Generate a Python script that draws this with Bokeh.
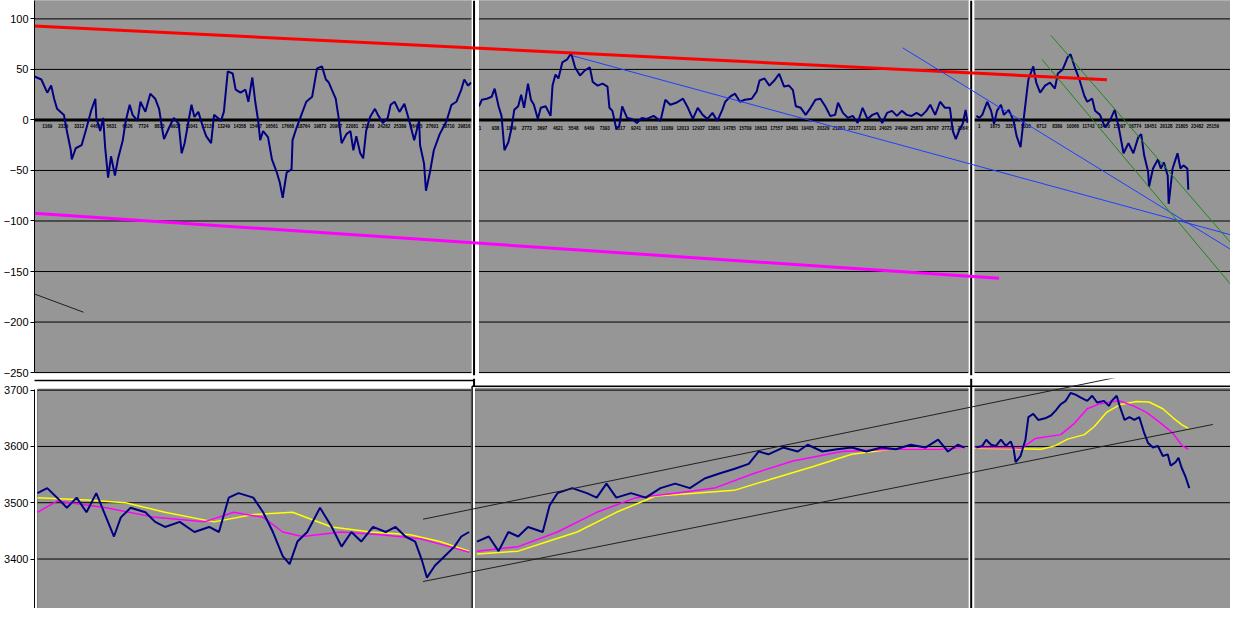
from bokeh.plotting import figure
from bokeh.layouts import column
from bokeh.models import FixedTicker, Range1d
from bokeh.embed import file_html
from bokeh.resources import INLINE
from bokeh.core.properties import value

# ---------------- data: upper row (oscillator) ----------------
top_ticks = [100, 50, 0, -50, -100, -150, -200, -250]

osc1_x = [27, 34, 40, 44, 47, 50, 57, 60, 64, 65,
          69, 75, 80, 85, 89, 90, 94, 97, 99, 102,
          105, 109, 112, 117, 120, 124, 127, 132, 135, 140,
          145, 150, 154, 157, 159, 164, 169, 174, 177, 180,
          184, 187, 190, 194, 199, 202, 207, 210, 214, 217,
          220, 224, 229, 232, 237, 242, 245, 249, 252, 255,
          257, 260, 265, 269, 274, 277, 280, 284, 289, 290,
          294, 299, 304, 310, 315, 320, 324, 327, 330, 334,
          337, 340, 345, 349, 352, 355, 359, 362, 365, 369,
          374, 377, 382, 387, 390, 394, 399, 404, 409, 414,
          419, 420, 424, 426, 430, 434, 440, 447, 452, 457,
          462, 465, 469, 472]
osc1_y = [43, 40, 27, 34, 21, 11, 5, -11, -30, -39,
          -28, -25, -8, 10, 21, 2, -11, 2, -27, -57,
          -36, -55, -39, -20, -1, 15, 5, -1, 18, 8,
          26, 21, 11, -8, -19, -8, 2, -4, -33, -23,
          -1, 15, 3, 8, -8, -16, -23, 5, 2, -1,
          8, 48, 46, 30, 27, 30, 18, 42, 18, -1,
          -20, -11, -17, -39, -52, -62, -77, -52, -49, -20,
          -8, 5, 18, 23, 51, 53, 40, 37, 30, 21,
          2, -23, -14, -11, -30, -16, -33, -38, -11, 3,
          11, 5, -3, 2, 15, 18, 8, 16, -1, -20,
          -1, -25, -43, -70, -52, -30, -14, -1, 15, 18,
          30, 40, 34, 37]

osc2_x = [480, 483, 488, 493, 496, 500, 503, 506, 510, 513,
          516, 520, 523, 526, 530, 533, 536, 540, 543, 548,
          553, 555, 558, 561, 565, 570, 574, 578, 583, 588,
          593, 596, 601, 606, 611, 613, 616, 620, 623, 626,
          631, 636, 641, 646, 651, 658, 665, 670, 675, 681,
          688, 693, 698, 703, 708, 713, 718, 723, 728, 731,
          736, 741, 746, 751, 758, 763, 766, 771, 776, 781,
          786, 791, 796, 800, 803, 808, 813, 818, 823, 828,
          833, 838, 843, 846, 851, 856, 861, 866, 871, 876,
          881, 886, 891, 896, 901, 906, 911, 916, 921, 926,
          931, 936, 940, 945, 950, 955, 960, 963, 966, 970,
          973, 976, 978]
osc2_y = [13.5, 20, 21, 23, 31, 13.5, 4, -30, -22, -9,
          10, 13.5, 25, 12, 36, 20, 15, 1, 12, 13.5,
          4, 34, 45, 41, 57, 60, 66, 52, 44, 49,
          52, 37.5, 34, 36, 33, 12, 9, -9, -6, 13.5,
          2, 1, -3, 2, 1, 4, -1, 20, 15, 17,
          21, 12, 1, 12, 5, 1, 7, -1, 10, 18,
          23, 26, 18, 20, 21, 28, 39, 41, 34, 39,
          45.5, 33, 34, 29.5, 13.5, 12, 5, 12, 20, 21,
          13.5, 4, 5, 17, 7, 2, 4, -3, 12, 1,
          5, 7, -3, 7, 9, 4, 9, 5, 4, 7,
          4, 9, 15, 5, 18, 12, 12, -11, -19, -9,
          -4, 10, -3]

osc3_x = [987, 990, 993, 998, 1002, 1005, 1008, 1012, 1015, 1020,
          1025, 1028, 1032, 1035, 1038, 1040, 1045, 1048, 1052, 1057,
          1062, 1067, 1070, 1075, 1080, 1083, 1087, 1092, 1097, 1100,
          1105, 1108, 1113, 1118, 1123, 1128, 1132, 1137, 1142, 1147,
          1152, 1155, 1158, 1162, 1163, 1167, 1172, 1175, 1178, 1182,
          1183, 1187, 1190, 1192, 1195, 1198, 1202, 1203]
osc3_y = [4, 2, 5, 18, 9, -4, 9, 15, 5, 10,
          -1, -16, -27, -1, 24, 40, 53, 37, 27, 34,
          37, 31, 46, 50, 62, 65, 53, 40, 24, 18,
          21, 9, 5, -7, -1, 10, -7, -33, -23, -33,
          -17, -14, -35, -51, -66, -48, -39, -48, -42, -55,
          -83, -48, -39, -33, -48, -45, -48, -69]

osc1_labels = ["1169", "2339", "3312", "4467", "5631", "6626", "7724", "8833", "9932",
               "11041", "12139", "13249", "14358", "15467", "16561", "17668", "18764",
               "19873", "20967", "22081", "23188", "24282", "25389", "26495", "27601",
               "28710", "29816"]
osc2_labels = ["1", "938", "1849", "2773", "3697", "4621", "5548", "6469", "7393", "8317",
               "9241", "10165", "11089", "12013", "12937", "13861", "14785", "15709",
               "16633", "17557", "18481", "19405", "20329", "21253", "22177", "23101",
               "24025", "24949", "25873", "26797", "27721", "28645"]
osc3_labels = ["1", "1675", "3357", "5035", "6712", "8389", "10066", "11743", "13420",
               "15097", "16774", "18451", "20128", "21805", "23482", "25159"]

# trend lines drawn over the upper row: (x0, x1), (y0, y1)
red_x, red_y = [0, 1120], [94.3, 39.7]
mag_x, mag_y = [0, 1010], [-90.6, -156.7]
blueA_x, blueA_y = [575, 1246], [63.6, -113.6]
blueB_x, blueB_y = [912, 1246], [71.3, -128.0]
greenU_x, greenU_y = [1063, 1246], [83.7, -121.3]
greenL_x, greenL_y = [1054, 1246], [59.8, -162.5]
blk_x, blk_y = [0, 77], [-162.5, -190.3]

# ---------------- data: lower row (price) ----------------
bot_ticks = [3700, 3600, 3500, 3400]

px1_x = [30, 40, 50, 60, 70, 80, 90, 100, 108, 115,
         125, 140, 150, 160, 175, 190, 205, 215, 225, 235,
         250, 260, 270, 280, 287, 295, 305, 318, 330, 340,
         350, 360, 372, 385, 395, 405, 415, 422, 427, 435,
         445, 455, 462, 470]
px1_y = [3517, 3526, 3509, 3491, 3509, 3483, 3517, 3474, 3440, 3474,
         3491, 3483, 3466, 3457, 3466, 3448, 3457, 3448, 3509, 3517,
         3509, 3483, 3448, 3405, 3391, 3431, 3448, 3491, 3457, 3422,
         3448, 3431, 3457, 3448, 3457, 3440, 3431, 3397, 3367, 3388,
         3405, 3422, 3440, 3448]

px2_x = [478, 490, 500, 510, 520, 530, 545, 552, 560, 575,
         590, 600, 610, 620, 635, 650, 665, 680, 695, 710,
         725, 740, 755, 765, 775, 790, 805, 815, 830, 845,
         860, 875, 890, 905, 920, 935, 948, 958, 968, 975]
px2_y = [3431, 3440, 3414, 3448, 3440, 3457, 3448, 3495, 3517, 3526,
         3517, 3509, 3534, 3509, 3517, 3509, 3526, 3534, 3526, 3543,
         3552, 3560, 3569, 3591, 3586, 3598, 3591, 3603, 3591, 3595,
         3598, 3591, 3598, 3595, 3603, 3598, 3612, 3591, 3603, 3598]

px3_x = [987, 993, 997, 1002, 1007, 1012, 1017, 1022, 1025, 1027,
         1032, 1037, 1040, 1045, 1050, 1057, 1063, 1068, 1073, 1078,
         1083, 1088, 1093, 1100, 1105, 1110, 1117, 1122, 1125, 1130,
         1133, 1138, 1143, 1148, 1153, 1158, 1162, 1167, 1172, 1177,
         1182, 1185, 1190, 1193, 1196, 1200, 1204]
px3_y = [3598, 3601, 3612, 3603, 3601, 3612, 3601, 3609, 3595, 3572,
         3583, 3612, 3652, 3658, 3647, 3650, 3655, 3664, 3675, 3681,
         3695, 3692, 3687, 3681, 3690, 3678, 3681, 3672, 3681, 3690,
         3672, 3647, 3652, 3647, 3652, 3624, 3606, 3598, 3601, 3583,
         3586, 3566, 3572, 3580, 3563, 3547, 3526]

ma_fast1_x = [30, 50, 100, 150, 200, 230, 260, 280, 300, 340, 380, 420, 450, 470]
ma_fast1_y = [3483, 3503, 3491, 3474, 3466, 3483, 3474, 3448, 3440, 3448, 3443, 3436, 3422, 3412]
ma_slow1_x = [30, 80, 120, 160, 210, 250, 290, 330, 370, 410, 440, 470]
ma_slow1_y = [3509, 3505, 3500, 3483, 3466, 3479, 3483, 3457, 3448, 3443, 3431, 3414]

ma_fast2_x = [478, 520, 560, 600, 640, 680, 720, 760, 800, 850, 900, 950, 975]
ma_fast2_y = [3414, 3422, 3448, 3483, 3509, 3517, 3526, 3552, 3574, 3591, 3595, 3595, 3598]
ma_slow2_x = [478, 520, 550, 580, 620, 660, 700, 740, 780, 820, 860, 900, 950, 975]
ma_slow2_y = [3409, 3414, 3431, 3448, 3483, 3512, 3517, 3522, 3543, 3564, 3586, 3595, 3595, 3598]

ma_fast3_x = [985, 1033, 1047, 1073, 1087, 1100, 1113, 1127, 1133, 1147, 1160, 1173, 1187, 1197, 1203]
ma_fast3_y = [3598, 3597, 3614, 3621, 3641, 3667, 3676, 3680, 3681, 3672, 3661, 3644, 3624, 3601, 3595]
ma_slow3_x = [985, 1053, 1067, 1080, 1097, 1107, 1120, 1133, 1150, 1163, 1177, 1188, 1197, 1203]
ma_slow3_y = [3597, 3595, 3601, 3613, 3621, 3635, 3661, 3674, 3680, 3679, 3667, 3650, 3638, 3632]

chanU_x, chanU_y = [423, 1158], [3470.7, 3732.8]
chanL_x, chanL_y = [423, 1228], [3360.0, 3639.0]

# ---------------- styling / layout ----------------
GRAY = "#969696"
BORDER = "#7d7d7d"
NAVY = "#000080"
FONT = "Liberation Sans"
X0, X1 = 27, 1246


def style_axis(p, ticks, lo, hi):
    ax = p.yaxis[0]
    ax.ticker = FixedTicker(ticks=ticks)
    ax.bounds = (lo, hi)
    ax.axis_line_color = "black"
    ax.axis_line_width = 1
    ax.major_tick_out = 4
    ax.major_tick_in = 0
    ax.minor_tick_out = 0
    ax.minor_tick_in = 0
    ax.major_tick_line_color = "black"
    ax.major_label_standoff = 2
    ax.major_label_text_font = FONT
    ax.major_label_text_font_size = "11px"
    ax.major_label_text_color = "black"


def grid_segments(p, lefts, rights, ticks, thick=None):
    x0, x1, yy, ww = [], [], [], []
    for l, r in zip(lefts, rights):
        for t in ticks:
            x0.append(l)
            x1.append(r)
            yy.append(t)
            ww.append(3 if t == thick else 1)
    p.segment(x0=x0, x1=x1, y0=yy, y1=yy, line_color="black", line_width=ww)


# ---------- upper figure ----------
T_LO, T_HI = -252.9, 118.2
top = figure(width=1230, height=378, x_range=Range1d(X0, X1), y_range=Range1d(T_LO, T_HI),
             output_backend="svg", toolbar_location=None, x_axis_location=None,
             min_border_left=30, min_border_right=0, min_border_top=0, min_border_bottom=3,
             background_fill_color="white", border_fill_color="white", outline_line_color=None)
top.grid.visible = False
style_axis(top, top_ticks, -250, T_HI)

t_left = [27, 480, 985]
t_right = [472.5, 979, 1246]
top.quad(left=t_left, right=t_right, bottom=[-250] * 3, top=[T_HI] * 3,
         fill_color=GRAY, line_color=BORDER, line_width=1)
grid_segments(top, t_left, t_right, top_ticks, thick=0)

# tiny category labels along the zero line
for labels, l, r, yv in [(osc1_labels, 40, 465, -6), (osc2_labels, 481, 974, -8),
                          (osc3_labels, 990, 1228, -6)]:
    n = len(labels)
    xs = [l + (r - l) * i / (n - 1) for i in range(n)]
    top.text(x=xs, y=[yv] * n, text=labels, text_font=value(FONT), text_font_size="4.5px",
             text_font_style="bold", text_color="black", text_align="center",
             text_baseline="middle")

for xs, ys in [(osc1_x, osc1_y), (osc2_x, osc2_y), (osc3_x, osc3_y)]:
    top.line(xs, ys, line_color=NAVY, line_width=2)

# separators between the pasted panels
top.quad(left=[472.5, 979], right=[480, 985], bottom=[T_LO] * 2, top=[T_HI] * 2,
         fill_color="white", line_color=None)
top.segment(x0=[475, 981.7], x1=[475, 981.7], y0=[T_LO] * 2, y1=[T_HI] * 2,
            line_color="black", line_width=2)

# hand-drawn trend lines
top.line(red_x, red_y, line_color="#ff0000", line_width=3)
top.line(mag_x, mag_y, line_color="#ff00ff", line_width=3)
top.line(blueA_x, blueA_y, line_color="#1f3fff", line_width=1)
top.line(blueB_x, blueB_y, line_color="#1f3fff", line_width=1)
top.line(greenU_x, greenU_y, line_color="#1a8a1a", line_width=1)
top.line(greenL_x, greenL_y, line_color="#1a8a1a", line_width=1)
top.line(blk_x, blk_y, line_color="#202020", line_width=1)

# ---------- lower figure ----------
B_LO, B_HI = 3312.1, 3720.7
bot = figure(width=1230, height=230, x_range=top.x_range, y_range=Range1d(B_LO, B_HI),
             output_backend="svg", toolbar_location=None, x_axis_location=None,
             min_border_left=30, min_border_right=0, min_border_top=0, min_border_bottom=0,
             background_fill_color="white", border_fill_color="white", outline_line_color=None)
bot.grid.visible = False
style_axis(bot, bot_ticks, B_LO, 3701.7)

b_left = [30, 476, 985]
b_right = [472, 979, 1246]
b_top = [3701.7, 3703.4, 3703.4]
bot.quad(left=b_left, right=b_right, bottom=[B_LO] * 3, top=b_top,
         fill_color=GRAY, line_color=BORDER, line_width=1)
grid_segments(bot, b_left, b_right, bot_ticks)

for xs, ys in [(ma_slow1_x, ma_slow1_y), (ma_slow2_x, ma_slow2_y), (ma_slow3_x, ma_slow3_y)]:
    bot.line(xs, ys, line_color="#ffff00", line_width=1.5)
for xs, ys in [(ma_fast1_x, ma_fast1_y), (ma_fast2_x, ma_fast2_y), (ma_fast3_x, ma_fast3_y)]:
    bot.line(xs, ys, line_color="#ff00ff", line_width=1.5)
for xs, ys in [(px1_x, px1_y), (px2_x, px2_y), (px3_x, px3_y)]:
    bot.line(xs, ys, line_color=NAVY, line_width=2)

bot.quad(left=[472, 979], right=[476, 985], bottom=[B_LO] * 2, top=[B_HI] * 2,
         fill_color="white", line_color=None)
bot.segment(x0=[473, 475, 981.7, 0, 473], x1=[473, 475, 981.7, 475, 1246],
            y0=[B_LO, 3707, B_LO, 3717.2, 3707], y1=[3707, B_HI, B_HI, 3717.2, 3707],
            line_color="black", line_width=[1.5, 2, 2, 1.5, 1.5])

bot.line(chanU_x, chanU_y, line_color="#202020", line_width=1)
bot.line(chanL_x, chanL_y, line_color="#202020", line_width=1)

page = column(top, bot, spacing=0)
open("out.html", "w").write(file_html(page, INLINE))
